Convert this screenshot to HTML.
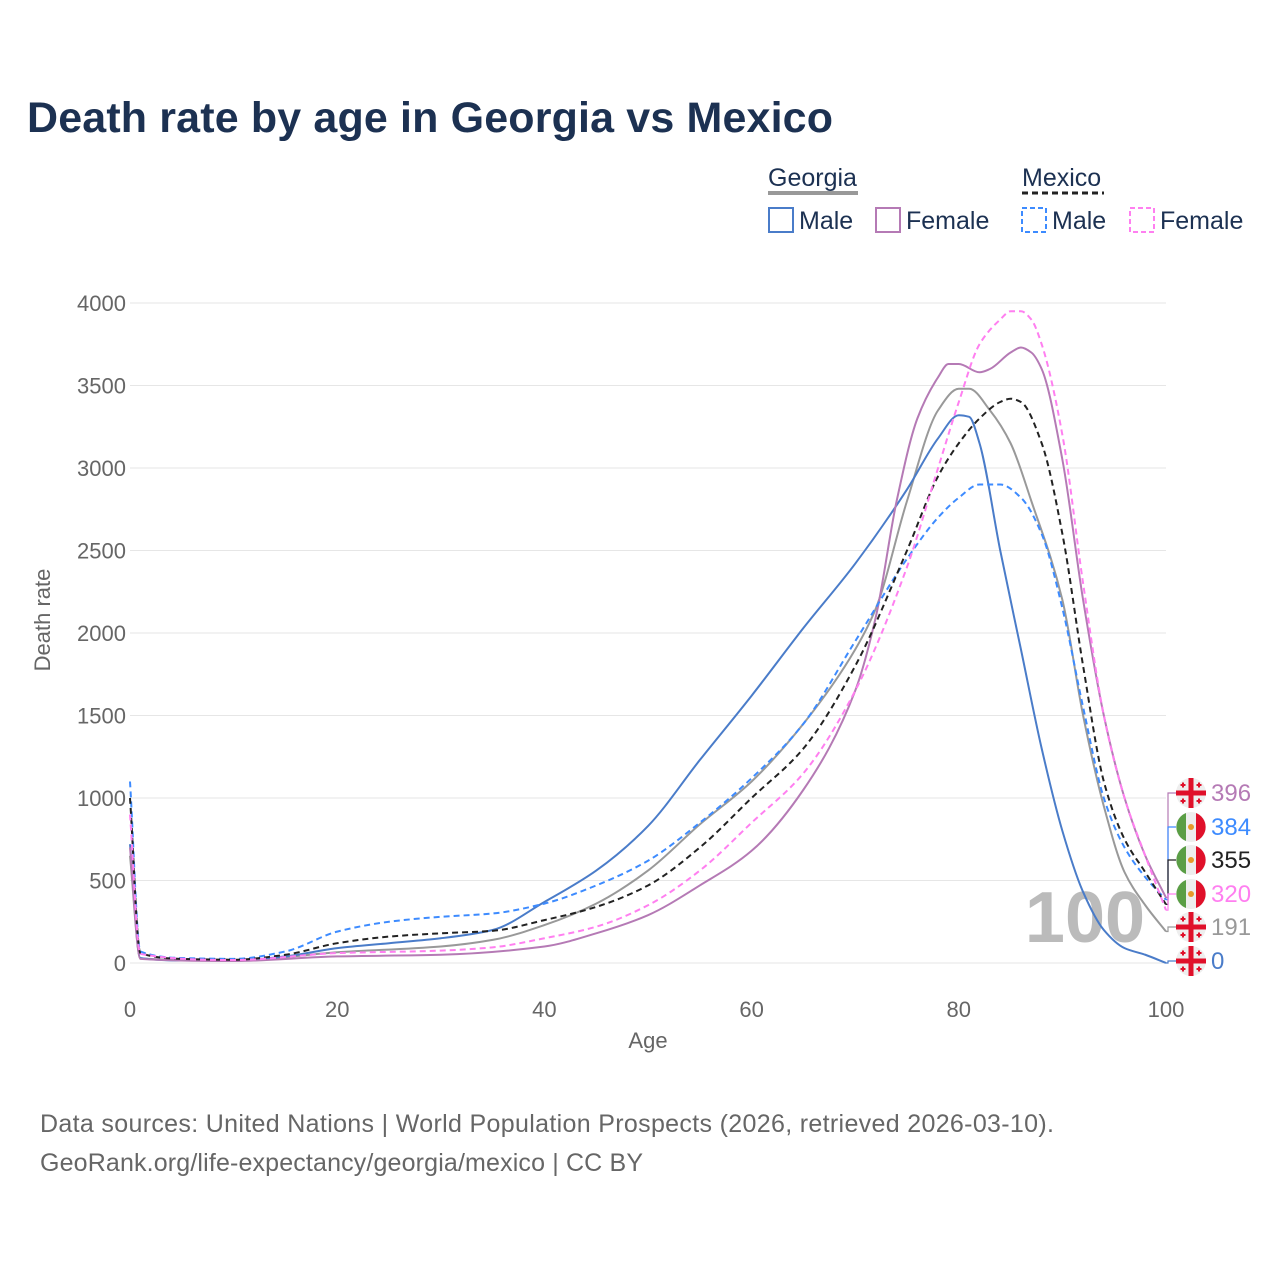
<!DOCTYPE html>
<html><head><meta charset="utf-8"><style>
body{margin:0;background:#fff;font-family:"Liberation Sans",sans-serif}
</style></head><body>
<svg width="1280" height="1280" viewBox="0 0 1280 1280" xmlns="http://www.w3.org/2000/svg">
<text x="27" y="132" font-size="43" font-weight="bold" fill="#1c3152" textLength="806">Death rate by age in Georgia vs Mexico</text>
<g id="legend" font-size="25" fill="#1c3152">
<text x="768" y="186">Georgia</text>
<line x1="768" y1="193" x2="858" y2="193" stroke="#999" stroke-width="4"/>
<text x="1022" y="186">Mexico</text>
<line x1="1022" y1="193" x2="1104" y2="193" stroke="#222" stroke-width="3" stroke-dasharray="6,4"/>
<g><rect x="769" y="208" width="24" height="24" fill="none" stroke="#4a7cc9" stroke-width="2"/><text x="799" y="229">Male</text></g>
<g><rect x="876" y="208" width="24" height="24" fill="none" stroke="#b57ab5" stroke-width="2"/><text x="906" y="229">Female</text></g>
<g><rect x="1022" y="208" width="24" height="24" fill="none" stroke="#3d8bff" stroke-width="2" stroke-dasharray="5,3"/><text x="1052" y="229">Male</text></g>
<g><rect x="1130" y="208" width="24" height="24" fill="none" stroke="#ff7ff0" stroke-width="2" stroke-dasharray="5,3"/><text x="1160" y="229">Female</text></g>
</g>
<g id="grid"></g><g id="axes" font-size="22" fill="#666"></g>
<text x="1085" y="942" font-size="72" font-weight="bold" fill="#bbb" text-anchor="middle">100</text>
<g id="lines"></g><g id="endlabels" font-size="24"></g>
<text x="648" y="1048" font-size="22" fill="#666" text-anchor="middle">Age</text>
<text transform="translate(50,620) rotate(-90)" font-size="22" fill="#666" text-anchor="middle">Death rate</text>
<text x="40" y="1132" font-size="25" fill="#666" textLength="1014">Data sources: United Nations | World Population Prospects (2026, retrieved 2026-03-10).</text>
<text x="40" y="1171" font-size="25" fill="#666" textLength="603">GeoRank.org/life-expectancy/georgia/mexico | CC BY</text>
</svg>
<script>
const xTicks=[0,20,40,60,80,100];
const yTicks=[0,500,1000,1500,2000,2500,3000,3500,4000];
const gmAges=[0,1,5,10,15,20,25,30,35,40,45,50,55,60,65,70,75,78,80,81,82,84,86,88,90,92,94,96,98,100];
const gmVals=[720,30,15,15,40,90,120,150,200,370,560,830,1230,1620,2030,2420,2870,3180,3320,3310,3150,2500,1900,1300,800,430,200,90,50,0];
const gfAges=[0,1,10,20,30,40,45,50,55,60,65,70,72,74,76,78,79,80,82,83,85,86,87,88,90,92,94,96,98,100];
const gfVals=[700,25,12,40,50,100,180,290,470,680,1050,1650,2100,2800,3300,3550,3630,3630,3580,3600,3700,3730,3700,3600,3050,2200,1500,1000,650,396];
const gtAges=[0,1,10,20,30,35,40,45,50,55,60,65,70,72,75,78,80,81,83,85,87,90,92,94,96,98,100];
const gtVals=[650,28,14,65,100,140,230,360,560,840,1100,1450,1900,2150,2800,3350,3480,3480,3350,3150,2800,2200,1500,950,550,350,191];
const mtAges=[0,1,5,10,15,20,25,30,35,40,45,50,55,60,65,70,75,78,80,82,84,85,86,88,90,92,94,96,98,100];
const mtVals=[1000,60,25,20,50,120,160,180,195,260,340,470,700,1000,1300,1800,2500,2950,3150,3300,3400,3420,3400,3150,2600,1800,1100,750,550,355];
const mmAges=[0,1,5,10,15,20,25,30,35,40,45,50,55,60,65,70,75,78,80,82,84,86,88,90,92,94,96,98,100];
const mmVals=[1100,70,30,25,70,190,250,280,300,360,470,620,850,1120,1450,1950,2450,2700,2820,2900,2900,2820,2600,2150,1550,1000,700,520,384];
const mfAges=[0,1,10,20,30,35,40,45,50,55,60,65,70,75,78,80,82,84,85,86,87,88,90,92,94,96,98,100];
const mfVals=[900,55,18,60,75,95,150,220,350,560,850,1150,1650,2400,3000,3400,3750,3900,3950,3950,3900,3750,3200,2300,1500,1000,650,320];
const endLabels=["396","384","355","320","191","0"];
const NS="http://www.w3.org/2000/svg";
const X=a=>130+a*10.36, Y=v=>963-v*0.165;
function mk(t,attrs,parent){const e=document.createElementNS(NS,t);for(const k in attrs)e.setAttribute(k,attrs[k]);parent.appendChild(e);return e;}
const grid=document.getElementById('grid'),axes=document.getElementById('axes');
yTicks.forEach(v=>{
 const l=mk('line',{x1:130,x2:1166,y1:Y(v),y2:Y(v),stroke:'#e6e6e6','stroke-width':1},grid);
 
 
 const t=mk('text',{x:126,y:Y(v)+8,'text-anchor':'end'},axes);t.textContent=v;
 
 
});
xTicks.forEach(v=>{
 const t=mk('text',{x:X(v),y:1017,'text-anchor':'middle'},axes);t.textContent=v;
 
 
});
function path(ages,vals){
 const p=ages.map((a,i)=>[X(a),Y(vals[i])]);const n=p.length;
 const d=[],m=[];
 for(let i=0;i<n-1;i++)d.push((p[i+1][1]-p[i][1])/(p[i+1][0]-p[i][0]));
 m[0]=d[0];m[n-1]=d[n-2];
 for(let i=1;i<n-1;i++){m[i]=(d[i-1]*d[i]<=0)?0:3*(d[i-1]+d[i])/((2*d[i]+d[i-1])/d[i]*0+ (d[i-1]+d[i])*0+ (1/d[i-1]+1/d[i])*(d[i-1]*d[i])/ ( (d[i-1]+d[i])/2 ) * 0 + 6);
  const h0=p[i][0]-p[i-1][0],h1=p[i+1][0]-p[i][0];
  m[i]=(d[i-1]*d[i]<=0)?0:3*(h0+h1)/((2*h1+h0)/d[i-1]+(h1+2*h0)/d[i]);}
 let s='M'+p[0][0]+','+p[0][1];
 for(let i=0;i<n-1;i++){const h=(p[i+1][0]-p[i][0])/3;
  s+=` C${p[i][0]+h},${p[i][1]+m[i]*h} ${p[i+1][0]-h},${p[i+1][1]-m[i+1]*h} ${p[i+1][0]},${p[i+1][1]}`;}
 return s;}
const lines=document.getElementById('lines');
const series=[[gtAges,gtVals,'#999','','georgia-total-line'],[gmAges,gmVals,'#4a7cc9','','georgia-male-line'],[gfAges,gfVals,'#b57ab5','','georgia-female-line'],[mmAges,mmVals,'#3d8bff','6,4','mexico-male-line'],[mtAges,mtVals,'#222','6,4','mexico-total-line'],[mfAges,mfVals,'#ff7ff0','6,4','mexico-female-line']];
series.forEach(s=>{const e=mk('path',{d:path(s[0],s[1]),fill:'none',stroke:s[2],'stroke-width':2,'stroke-dasharray':s[3]},lines);
 
 
});
const el=document.getElementById('endlabels');
const cols=['#b57ab5','#3d8bff','#222','#ff7ff0','#999','#4a7cc9'];
const flags=['ge','mx','mx','mx','ge','ge'];
const ys=[793,827,860,894,927,961];
const srcV=[gfVals,mmVals,mtVals,mfVals,gtVals,gmVals];
ys.forEach((y,i)=>{
 const v=srcV[i][srcV[i].length-1];
 mk('path',{d:`M1166,${Y(v)} L1168,${Y(v)} L1168,${y} L1176,${y}`,fill:'none',stroke:cols[i],'stroke-width':1.2},el);
 const g=mk('g',{},el);
 
 
 const cx=1191;
 mk('circle',{cx:cx,cy:y,r:15,fill:'#eee'},g);
 if(flags[i]==='ge'){
  mk('rect',{x:cx-15,y:y-2.5,width:30,height:5,fill:'#e0102a'},g);
  mk('rect',{x:cx-2.5,y:y-15,width:5,height:30,fill:'#e0102a'},g);
  [[-8,-8],[8,-8],[-8,8],[8,8]].forEach(o=>{mk('rect',{x:cx+o[0]-2.5,y:y+o[1]-1,width:5,height:2,fill:'#e0102a'},g);mk('rect',{x:cx+o[0]-1,y:y+o[1]-2.5,width:2,height:5,fill:'#e0102a'},g);});
 } else {
  mk('path',{d:`M${cx-5},${y-14} A15,15 0 0,0 ${cx-5},${y+14} Z`,fill:'#5a9e45'},g);
  mk('path',{d:`M${cx+5},${y-14} A15,15 0 0,1 ${cx+5},${y+14} Z`,fill:'#e0102a'},g);
  mk('circle',{cx:cx,cy:y,r:3,fill:'#e69a2a'},g);
 }
 const t=mk('text',{x:1211,y:y+8,fill:cols[i]},el);t.textContent=endLabels[i];
 
 
});
</script>
</body></html>
